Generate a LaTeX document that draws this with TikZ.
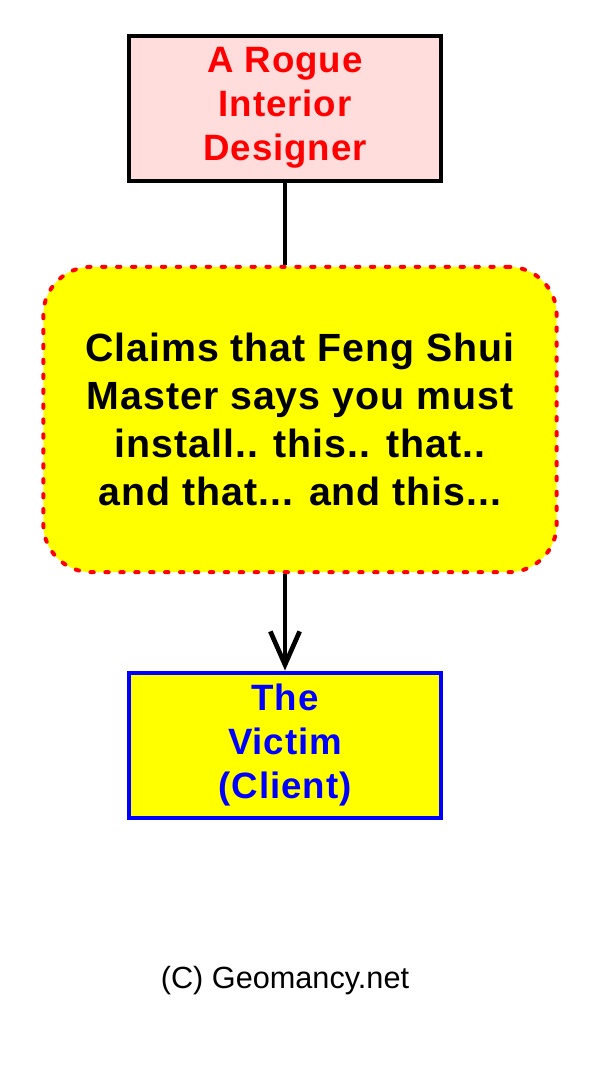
\documentclass[tikz,border=0pt]{standalone}
\usepackage{fontspec}
\setmainfont{Liberation Sans}
\newfontfamily\heavyfont[LetterSpace=2.5]{Liberation Sans}
\usetikzlibrary{arrows.meta}
\definecolor{rosefill}{RGB}{255,221,221}
\definecolor{lemon}{RGB}{255,255,0}
\definecolor{alarmred}{RGB}{255,0,0}
\definecolor{inkblue}{RGB}{0,0,255}
\def\boxfont{\heavyfont\bfseries\fontsize{27.5}{33}\selectfont}
\def\claimfont{\heavyfont\bfseries\fontsize{29.5}{36}\selectfont}
\tikzset{
	flat box/.style={draw, line width=3pt, inner sep=0pt, align=center, font=\boxfont, minimum width=234pt, minimum height=108.75pt},
	link/.style={line width=3pt}
}

\begin{document}
\begin{tikzpicture}[x=0.75pt, y=-0.75pt]
				\useasboundingbox (0,0) rectangle (616,1068);
				
				\node[flat box, fill=rosefill, text=alarmred] (designer) at (285,108) {A Rogue\\Interior\\Designer};
				
				\node[draw=alarmred, fill=lemon, line width=3pt, dash pattern=on 2.5pt off 8.7pt, line cap=round, rounded corners=36pt, inner sep=0pt, align=center, font=\claimfont, minimum width=385pt, minimum height=229pt] (pitch) at (300,419.5) {Claims that Feng Shui\\Master says you must\\install.. this.. that..\\and that... and this...};
				
				\node[flat box, draw=inkblue, fill=lemon, text=inkblue] (victim) at (285,745) {The\\Victim\\(Client)};
				
				\draw[link] (designer.south) -- (designer.south |- pitch.north);
				\draw[link, -{Straight Barb[length=25pt, width=22pt, line width=3.5pt]}] (victim.north |- pitch.south) -- (victim.north);
				
				\node[anchor=base, font=\fontsize{23}{23}\selectfont] (credit) at (285,988) {(C) Geomancy.net};
			\end{tikzpicture}
\end{document}
